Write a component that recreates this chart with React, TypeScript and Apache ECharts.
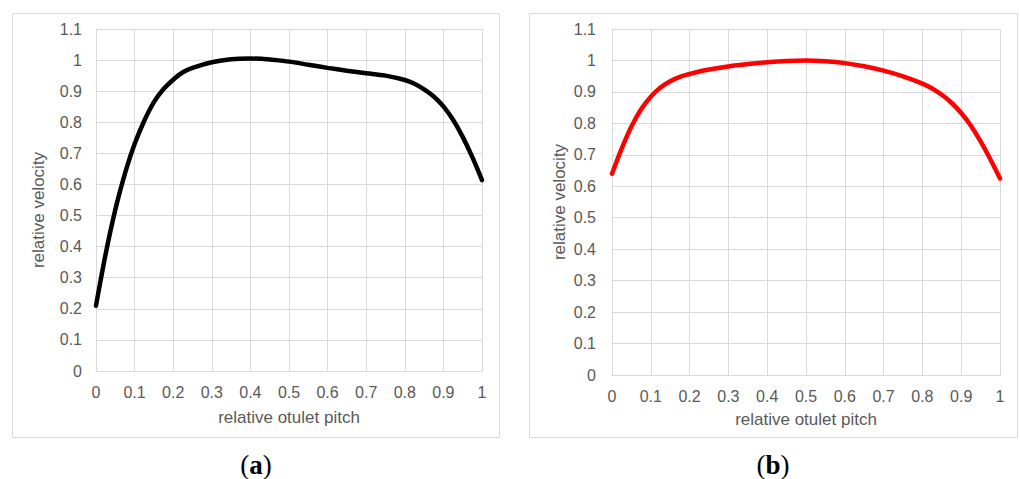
import React, { useEffect, useRef } from "react";
import * as echarts from "echarts";

const pitchA = [0, 0.015, 0.03, 0.045, 0.06, 0.08, 0.1, 0.125, 0.15, 0.175, 0.2, 0.225, 0.25, 0.3, 0.35, 0.4, 0.45, 0.5, 0.55, 0.6, 0.65, 0.7, 0.75, 0.8, 0.825, 0.85, 0.875, 0.9, 0.925, 0.95, 0.975, 1];
const velocityA = [0.21, 0.312, 0.407, 0.492, 0.568, 0.656, 0.73, 0.805, 0.865, 0.907, 0.937, 0.9608, 0.975, 0.993, 1.003, 1.005, 1.002, 0.995, 0.985, 0.975, 0.966, 0.958, 0.95, 0.936, 0.924, 0.906, 0.883, 0.851, 0.808, 0.753, 0.688, 0.614];

const pitchB = [0, 0.025, 0.05, 0.075, 0.1, 0.125, 0.15, 0.175, 0.2, 0.225, 0.25, 0.3, 0.35, 0.4, 0.45, 0.5, 0.55, 0.6, 0.65, 0.7, 0.75, 0.8, 0.825, 0.85, 0.875, 0.9, 0.925, 0.95, 0.975, 1];
const velocityB = [0.64, 0.72, 0.79, 0.845, 0.885, 0.914, 0.934, 0.948, 0.957, 0.965, 0.971, 0.981, 0.9885, 0.9945, 0.9985, 1.0, 0.9975, 0.9915, 0.9815, 0.9675, 0.9495, 0.9265, 0.911, 0.891, 0.8655, 0.833, 0.7925, 0.7425, 0.686, 0.625];

const xTitle = "relative otulet pitch";
const yTitle = "relative velocity";
const captions = ["a", "b"];

const GRID = "#d9d9d9";
const TEXT = "#595959";
const FONT = "'Liberation Sans', Arial, sans-serif";
const SERIF = "'Liberation Serif', 'Times New Roman', serif";

const fmt = (v: number) => String(Math.round(v * 10) / 10);

export default function App() {
  const ref = useRef<HTMLDivElement>(null);
  useEffect(() => {
    if (!ref.current) return;
    const chart = echarts.init(ref.current, null, { renderer: "svg" });
    const xAxisBase = (gridIndex: number) => ({
      type: "value" as const,
      gridIndex,
      min: 0,
      max: 1,
      interval: 0.1,
      axisLine: { show: true, lineStyle: { color: GRID, width: 1 } },
      axisTick: { show: false },
      splitLine: { show: true, lineStyle: { color: GRID, width: 1 } },
      axisLabel: { color: TEXT, fontSize: 16, fontFamily: FONT, margin: 13, formatter: fmt },
    });
    const yAxisBase = (gridIndex: number, margin: number) => ({
      type: "value" as const,
      gridIndex,
      min: 0,
      max: 1.1,
      interval: 0.1,
      axisLine: { show: false },
      axisTick: { show: false },
      splitLine: { show: true, lineStyle: { color: GRID, width: 1 } },
      axisLabel: { color: TEXT, fontSize: 16, fontFamily: FONT, margin, formatter: fmt },
    });
    const titleStyle = { fill: TEXT, fontSize: 17, fontFamily: FONT, align: "center", verticalAlign: "middle" };
    const caption = (x: number, t: string) => ({
      type: "text",
      x,
      y: 465,
      style: {
        text: "(" + "{b|" + t + "})",
        rich: { b: { fontWeight: "bold", fontSize: 27, lineHeight: 22, fontFamily: SERIF, fill: "#000" } },
        fontSize: 27,
        lineHeight: 22,
        fontFamily: SERIF,
        fill: "#000",
        align: "center",
        verticalAlign: "middle",
      },
    });
    chart.setOption({
      animation: false,
      backgroundColor: "#fff",
      grid: [
        { left: 96, top: 29, width: 386, height: 342 },
        { left: 612, top: 29, width: 388, height: 346 },
      ],
      xAxis: [xAxisBase(0), xAxisBase(1)],
      yAxis: [yAxisBase(0, 14), yAxisBase(1, 16)],
      series: [
        {
          type: "line",
          xAxisIndex: 0,
          yAxisIndex: 0,
          data: pitchA.map((x, i) => [x, velocityA[i]]),
          smooth: 0.35,
          showSymbol: false,
          lineStyle: { color: "#000", width: 4.5, cap: "round" },
        },
        {
          type: "line",
          xAxisIndex: 1,
          yAxisIndex: 1,
          data: pitchB.map((x, i) => [x, velocityB[i]]),
          smooth: 0.35,
          showSymbol: false,
          lineStyle: { color: "#ff0000", width: 4.5, cap: "round" },
        },
      ],
      graphic: [
        { type: "rect", shape: { x: 12.5, y: 13.5, width: 487, height: 424 }, style: { fill: "none", stroke: GRID, lineWidth: 1 } },
        { type: "rect", shape: { x: 529.5, y: 13.5, width: 488, height: 424 }, style: { fill: "none", stroke: GRID, lineWidth: 1 } },
        { type: "text", x: 289, y: 417, style: { ...titleStyle, text: xTitle } },
        { type: "text", x: 806, y: 419, style: { ...titleStyle, text: xTitle } },
        { type: "text", x: 38, y: 210, rotation: Math.PI / 2, style: { ...titleStyle, text: yTitle } },
        { type: "text", x: 559, y: 202, rotation: Math.PI / 2, style: { ...titleStyle, text: yTitle } },
        caption(256, captions[0]),
        caption(773, captions[1]),
      ],
    });
    return () => chart.dispose();
  }, []);
  return <div ref={ref} style={{ position: "absolute", left: 0, top: 0, width: 1020, height: 479 }} />;
}
